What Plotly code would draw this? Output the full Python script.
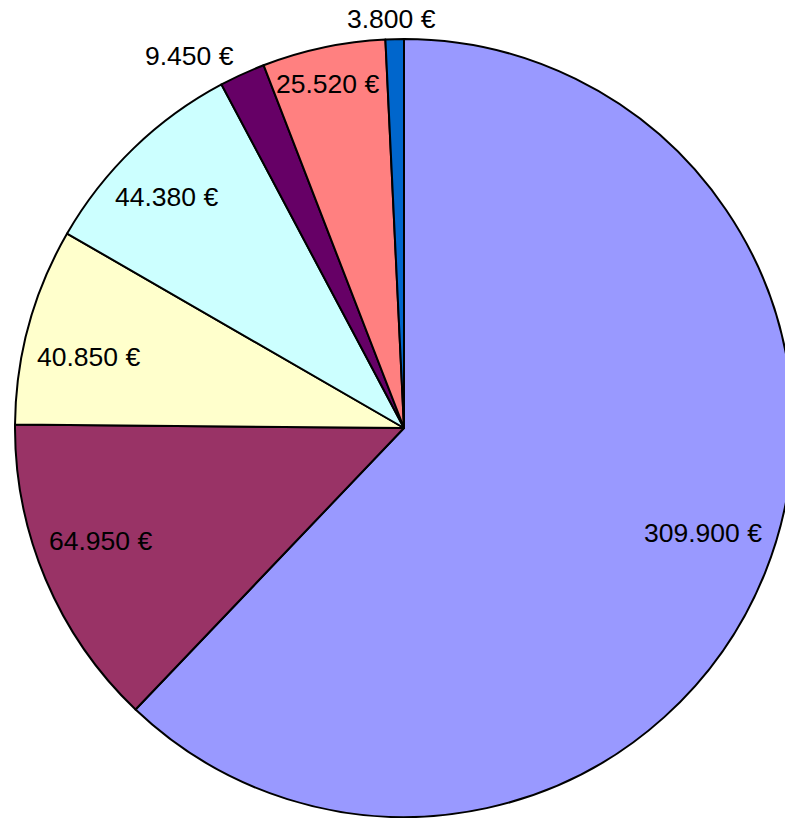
import math
import plotly.graph_objects as go

labels = ["A", "B", "C", "D", "E", "F", "G"]
values = [309900, 64950, 40850, 44380, 9450, 25520, 3800]
colors = ["#9999FF", "#993366", "#FFFFCC", "#CCFFFF", "#660066", "#FF8080", "#0066CC"]
label_inside = [True, True, True, True, False, True, False]

# figure / pie geometry (pixels)
W, H = 800, 818
CX, CY, R = 404, 428, 389
FS = 26.5
FONT = "Liberation Sans, Arial, sans-serif"

fig = go.Figure(
    go.Pie(
        labels=labels,
        values=values,
        sort=False,
        direction="clockwise",
        rotation=0,
        marker=dict(colors=colors, line=dict(color="black", width=2)),
        textinfo="none",
        domain=dict(x=[(CX - R) / W, (CX + R) / W], y=[(H - CY - R) / H, (H - CY + R) / H]),
        hoverinfo="label+value",
    )
)

# Arial / Liberation Sans advance widths (em)
CHAR_W = {".": 0.278, " ": 0.278, "€": 0.556}


def text_width(s):
    return sum(CHAR_W.get(c, 0.556) for c in s) * FS


def far_dist(cx, cy, hw, hh):
    return max(math.hypot(cx + sx * hw, cy + sy * hh) for sx in (-1, 1) for sy in (-1, 1))


total = sum(values)
cum = 0.0
annotations = []
HH = 0.36 * FS   # half height of the digits
HB = 0.57 * FS   # half height of the text line box
for v, inside in zip(values, label_inside):
    mid = (cum + v / 2) / total * 2 * math.pi
    cum += v
    ux, uy = math.sin(mid), -math.cos(mid)  # screen coords, y down
    txt = f"{v:,}".replace(",", ".") + " €"
    hw = text_width(txt) / 2
    if inside:
        sy = (uy > 0) - (uy < 0)
        lo, hi = 0.0, 2 * R
        for _ in range(60):
            d = (lo + hi) / 2
            ox, oy = d * ux, d * uy - sy * HB
            if far_dist(ox, oy, hw, HH) < 0.967 * R:
                lo = d
            else:
                hi = d
        ox, oy = lo * ux, lo * uy - sy * HB
    else:
        d = R + 20
        ox = d * ux + hw * max(-1.0, min(1.0, 3 * ux))
        oy = d * uy
    px, py = CX + ox, CY + oy
    annotations.append(
        dict(
            x=px / W,
            y=1 - py / H,
            xref="paper",
            yref="paper",
            text=txt,
            showarrow=False,
            xanchor="center",
            yanchor="middle",
            font=dict(family=FONT, size=FS, color="black"),
        )
    )

fig.update_layout(
    width=W,
    height=H,
    margin=dict(l=0, r=0, t=0, b=0),
    showlegend=False,
    paper_bgcolor="white",
    plot_bgcolor="white",
    annotations=annotations,
)

fig.write_html(
    "out.html",
    config={"displayModeBar": False},
    post_script="document.body.style.margin='0';document.body.style.overflow='hidden';document.documentElement.style.overflow='hidden';",
)
